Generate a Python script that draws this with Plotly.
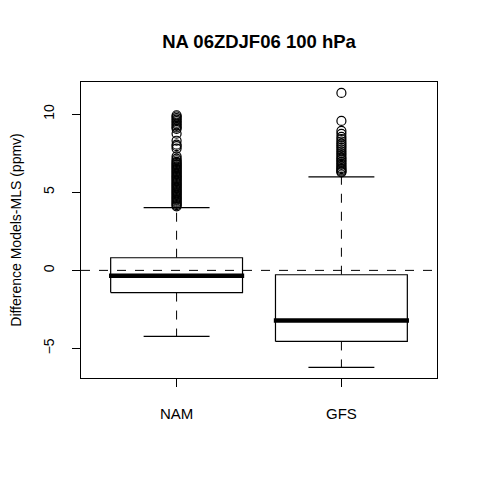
import plotly.graph_objects as go

categories = ["NAM", "GFS"]
positions = [1, 2]
q1 = [-1.42, -4.55]
median = [-0.34, -3.21]
q3 = [0.81, -0.28]
lower_whisker = [-4.23, -6.21]
upper_whisker = [4.02, 5.98]

nam_outliers = [4.10, 4.18, 4.25, 4.33, 4.40, 4.48, 4.55, 4.63, 4.70, 4.78, 4.85, 4.93,
                5.00, 5.08, 5.15, 5.23, 5.30, 5.38, 5.45, 5.53, 5.60, 5.68, 5.75, 5.83,
                5.90, 5.98, 6.05, 6.13, 6.20, 6.28, 6.35, 6.43, 6.50, 6.58, 6.65, 6.73,
                6.80, 6.88, 6.95, 7.05, 7.15, 7.30, 7.80, 7.95, 8.05, 8.30, 8.75,
                9.06, 9.15, 9.25, 9.35, 9.45, 9.55, 9.65, 9.75, 9.85, 9.93]
gfs_outliers = [6.28, 6.33, 6.40, 6.48, 6.55, 6.65, 6.75, 6.85, 6.95, 7.05, 7.15, 7.25,
                7.38, 7.50, 7.62, 7.75, 7.88, 8.00, 8.12, 8.25, 8.40, 8.55, 8.74, 8.93,
                9.57, 11.36]
outliers = [nam_outliers, gfs_outliers]

box_half = 0.4
staple_half = 0.2

fig = go.Figure()

for i, pos in enumerate(positions):
    # dashed whiskers
    fig.add_trace(go.Scatter(
        x=[pos, pos, None, pos, pos],
        y=[q3[i], upper_whisker[i], None, q1[i], lower_whisker[i]],
        mode="lines", line=dict(color="black", width=1, dash="dash"),
        hoverinfo="skip", showlegend=False))
    # staples
    fig.add_trace(go.Scatter(
        x=[pos - staple_half, pos + staple_half, None, pos - staple_half, pos + staple_half],
        y=[upper_whisker[i], upper_whisker[i], None, lower_whisker[i], lower_whisker[i]],
        mode="lines", line=dict(color="black", width=1.2),
        hoverinfo="skip", showlegend=False))
    # box
    fig.add_trace(go.Scatter(
        x=[pos - box_half, pos + box_half, pos + box_half, pos - box_half, pos - box_half],
        y=[q1[i], q1[i], q3[i], q3[i], q1[i]],
        mode="lines", line=dict(color="black", width=1.2),
        fill="toself", fillcolor="white",
        hoverinfo="skip", showlegend=False))
    # median
    fig.add_trace(go.Scatter(
        x=[pos - box_half - 0.01, pos + box_half + 0.01],
        y=[median[i], median[i]],
        mode="lines", line=dict(color="black", width=4.5),
        hoverinfo="skip", showlegend=False))
    # outliers
    fig.add_trace(go.Scatter(
        x=[pos] * len(outliers[i]), y=outliers[i],
        mode="markers",
        marker=dict(symbol="circle-open", size=9, color="black", line=dict(width=1.2)),
        hoverinfo="skip", showlegend=False))

# horizontal reference line at 0
fig.add_hline(y=0, line=dict(color="black", width=1, dash="dash"))

W, H = 472, 472
fig.update_layout(
    width=W, height=H,
    margin=dict(l=73, r=W - 429, t=74, b=H - 370, autoexpand=False),
    paper_bgcolor="white", plot_bgcolor="white",
    font=dict(family="Liberation Sans, Arial, sans-serif", size=14, color="black"),
    title=dict(text="<b>NA 06ZDJF06 100 hPa</b>", x=(73 + 429) / 2 / W, xanchor="center",
               y=1 - 34 / H, yanchor="middle",
               font=dict(size=18.5, color="black")),
    xaxis=dict(range=[0.42, 2.58], tickvals=positions, ticktext=categories,
               showgrid=False, zeroline=False, showline=True, linecolor="black",
               linewidth=1, mirror=True, ticks="outside", ticklen=8, tickcolor="black",
               ticklabelstandoff=14, tickfont=dict(size=15), automargin=False),
    yaxis=dict(range=[-6.89, 12.06], tickvals=[-5, 0, 5, 10],
               showgrid=False, zeroline=False, showline=True, linecolor="black",
               linewidth=1, mirror=True, ticks="outside", ticklen=8, tickcolor="black",
               tickangle=-90, ticklabelstandoff=12, tickfont=dict(size=14),
               automargin=False,
               title=dict(text="Difference Models-MLS (ppmv)", standoff=20,
                          font=dict(size=14))),
)

fig.write_html("out.html")
